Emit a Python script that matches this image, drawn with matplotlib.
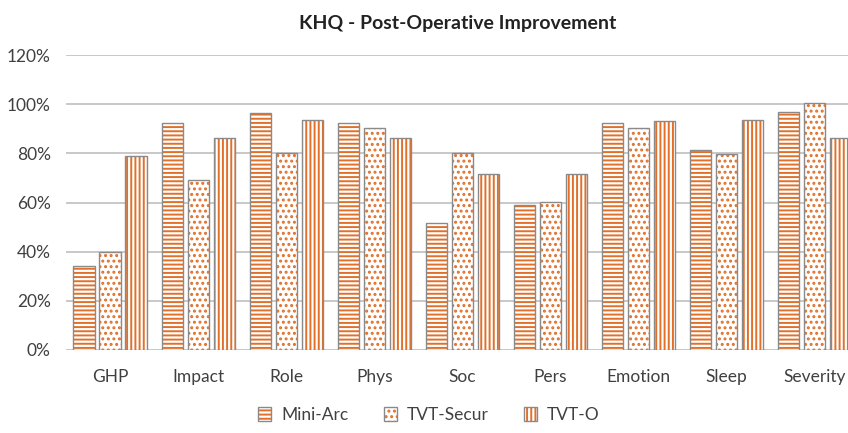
import numpy as np
import matplotlib
matplotlib.use("Agg")
import matplotlib.pyplot as plt
from matplotlib.legend_handler import HandlerTuple

categories = ["GHP", "Impact", "Role", "Phys", "Soc", "Pers", "Emotion", "Sleep", "Severity"]
mini_arc = [0.34, 0.924, 0.965, 0.923, 0.515, 0.592, 0.923, 0.814, 0.969]
tvt_secur = [0.40, 0.691, 0.802, 0.904, 0.802, 0.604, 0.904, 0.798, 1.007]
tvt_o = [0.789, 0.861, 0.934, 0.863, 0.717, 0.717, 0.932, 0.935, 0.863]
series_names = ["Mini-Arc", "TVT-Secur", "TVT-O"]

plt.rcParams["font.family"] = ["Lato", "DejaVu Sans"]
plt.rcParams["hatch.linewidth"] = 1.4

orange = "#E0702A"
edge = "#8a8a8a"
hatches = ["----", "...", "||||"]

fig = plt.figure(figsize=(8.48, 4.33), dpi=100)
ax = fig.add_axes([0.0778, 0.1917, 0.935, 0.681])

x = np.arange(len(categories))
w = 0.24
step = 0.295
handles = []
for i, vals in enumerate([mini_arc, tvt_secur, tvt_o]):
    pos = x + (i - 1) * step
    b1 = ax.bar(pos, vals, w, color="white", edgecolor=orange, linewidth=0,
                hatch=hatches[i], zorder=3)
    b2 = ax.bar(pos, vals, w, fill=False, edgecolor=edge, linewidth=1, zorder=4)
    handles.append((b1[0], b2[0]))

ax.set_xlim(-0.5, len(categories) - 0.5)
ax.set_ylim(0, 1.2)
ax.set_yticks(np.arange(0, 1.21, 0.2))
ax.set_yticklabels([f"{int(round(v*100))}%" for v in np.arange(0, 1.21, 0.2)])
ax.set_xticks(x)
ax.set_xticklabels(categories)
ax.tick_params(axis="both", length=0, labelsize=12.5, labelcolor="#404040")
ax.tick_params(axis="x", pad=14)
ax.tick_params(axis="y", pad=11)
ax.grid(axis="y", color="#bfbfbf", linewidth=1.2, zorder=0)
ax.set_axisbelow(True)
for s in ax.spines.values():
    s.set_visible(False)

fig.text(0.54, 0.945, "KHQ - Post-Operative Improvement", ha="center", va="center",
         fontsize=14, fontweight="bold", color="#222222")

fig.legend(handles, series_names, loc="center", bbox_to_anchor=(0.506, 0.042),
           ncol=3, frameon=False, fontsize=12.5, handlelength=0.75, handleheight=0.9,
           columnspacing=2.0, handletextpad=0.6,
           handler_map={tuple: HandlerTuple(ndivide=1, pad=0)}, labelcolor="#404040")

fig.savefig("out.png", dpi=100)
